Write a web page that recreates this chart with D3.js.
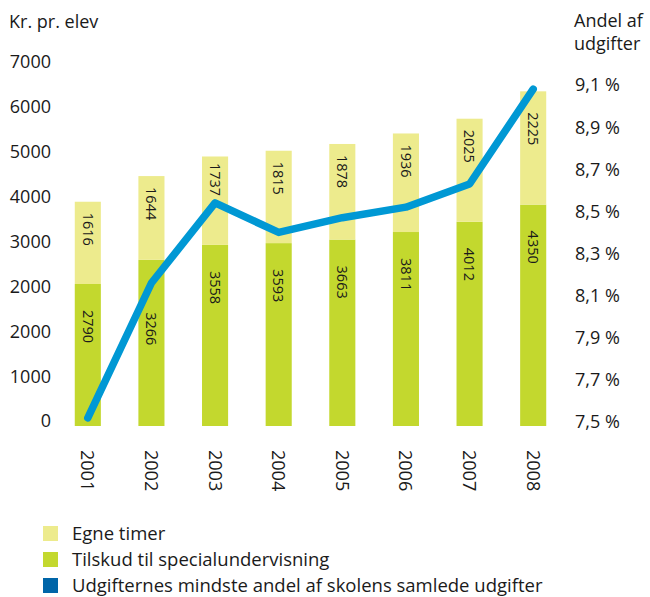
<!DOCTYPE html>
<html>
    <head>
        <meta charset="utf-8">
        <title></title>
        <script src="https://d3js.org/d3.v7.min.js"></script>
        <style>
            body { margin: 0; background: #fff; }
            text { font-family: "Open Sans", sans-serif; fill: #1a1a1a; }
        </style>
    </head>

    <body>
        <div id="my_dataviz"></div>
    </body>

    <script>
        // data
        var years = ["2001", "2002", "2003", "2004", "2005", "2006", "2007", "2008"];
        var tilskud = [2790, 3266, 3558, 3593, 3663, 3811, 4012, 4350];
        var egneTimer = [1616, 1644, 1737, 1815, 1878, 1936, 2025, 2225];
        var andel = [7.52, 8.16, 8.54, 8.40, 8.47, 8.52, 8.63, 9.08];

        // tick labels as printed (the left axis really prints 2000 twice)
        var leftTicks = ["7000", "6000", "5000", "4000", "3000", "2000", "2000", "1000", "0"];
        var rightTicks = [9.1, 8.9, 8.7, 8.5, 8.3, 8.1, 7.9, 7.7, 7.5];

        var legendItems = [
            { label: "Egne timer", color: "#edeb8d" },
            { label: "Tilskud til specialundervisning", color: "#c3d82e" },
            { label: "Udgifternes mindste andel af skolens samlede udgifter", color: "#0065a8" }
        ];

        var W = 650, H = 597;
        var base = 426;

        var svg = d3.select("#my_dataviz")
        .append("svg")
        .attr("width", W)
        .attr("height", H);

        // scales
        var x = d3.scaleBand()
        .domain(years)
        .range([56, 565])
        .paddingInner(0.59)
        .paddingOuter(0.295);

        var y = d3.scaleLinear()
        .domain([0, 7000])
        .range([base, base - 7000 * 0.0509]);

        var yRight = d3.scaleLinear()
        .domain([7.5, 9.1])
        .range([422, 85]);

        var yLeftLab = d3.scalePoint()
        .domain(d3.range(leftTicks.length))
        .range([62, 421]);

        // titles
        svg.append("text").attr("x", 9).attr("y", 28)
        .style("font-size", "18px").text("Kr. pr. elev");
        svg.append("text").attr("x", 574).attr("y", 27)
        .style("font-size", "18px").text("Andel af");
        svg.append("text").attr("x", 574).attr("y", 50)
        .style("font-size", "18px").text("udgifter");

        // left axis labels
        svg.append("g").selectAll("text")
        .data(leftTicks)
        .enter()
        .append("text")
        .attr("x", 51)
        .attr("y", function(d, i) { return yLeftLab(i); })
        .attr("dy", "0.36em")
        .attr("text-anchor", "end")
        .style("font-size", "18px")
        .text(function(d) { return d; });

        // right axis labels
        svg.append("g").selectAll("text")
        .data(rightTicks)
        .enter()
        .append("text")
        .attr("x", 575)
        .attr("y", function(d) { return yRight(d); })
        .attr("dy", "0.36em")
        .style("font-size", "18px")
        .text(function(d) { return d3.format(".1f")(d).replace(".", ",") + " %"; });

        var rows = years.map(function(yr, i) {
            return { year: yr, green: tilskud[i], light: egneTimer[i], pct: andel[i] };
        });

        // stacked bars
        svg.append("g").selectAll("rect")
        .data(rows)
        .enter()
        .append("rect")
        .attr("x", function(d) { return x(d.year); })
        .attr("y", function(d) { return y(d.green); })
        .attr("width", x.bandwidth())
        .attr("height", function(d) { return base - y(d.green); })
        .style("fill", "#c3d82e");

        svg.append("g").selectAll("rect")
        .data(rows)
        .enter()
        .append("rect")
        .attr("x", function(d) { return x(d.year); })
        .attr("y", function(d) { return y(d.green + d.light); })
        .attr("width", x.bandwidth())
        .attr("height", function(d) { return y(d.green) - y(d.green + d.light); })
        .style("fill", "#edeb8d");

        // line position helpers
        var cxs = rows.map(function(d) { return x(d.year) + x.bandwidth() / 2; });
        var cys = rows.map(function(d) { return yRight(d.pct); });
        function lineYAt(px) {
            if (px <= cxs[0]) return cys[0];
            for (var i = 1; i < cxs.length; i++) {
                if (px <= cxs[i]) {
                    var t = (px - cxs[i - 1]) / (cxs[i] - cxs[i - 1]);
                    return cys[i - 1] + t * (cys[i] - cys[i - 1]);
                }
            }
            return cys[cys.length - 1];
        }

        // value labels, nudged off the line where they would hit it
        var labLen = 32;
        function labelStart(top, offset, cx) {
            var s = top + offset;
            var a = lineYAt(cx - 7), b = lineYAt(cx + 7), c = lineYAt(cx);
            var lo = Math.min(a, b, c) - 4, hi = Math.max(a, b, c) + 4;
            if (s + labLen > lo && s < hi) {
                var above = lo - 4 - labLen;
                if (above >= top + 2) return above;
                var wideHi = Math.max(lineYAt(cx - x.bandwidth() / 2), lineYAt(cx + x.bandwidth() / 2));
                return (hi + wideHi) / 2 + 6;
            }
            return s;
        }

        var labels = [];
        rows.forEach(function(d, i) {
            labels.push({ cx: cxs[i], v: d.light, s: labelStart(y(d.green + d.light), 11, cxs[i]) });
            labels.push({ cx: cxs[i], v: d.green, s: labelStart(y(d.green), 26, cxs[i]) });
        });

        svg.append("g").selectAll("text")
        .data(labels)
        .enter()
        .append("text")
        .attr("transform", function(d) { return "translate(" + d.cx + "," + d.s + ") rotate(90)"; })
        .attr("dy", "0.36em")
        .style("font-size", "14.5px")
        .text(function(d) { return d.v; });

        // year labels
        svg.append("g").selectAll("text")
        .data(years)
        .enter()
        .append("text")
        .attr("transform", function(d) { return "translate(" + (x(d) + x.bandwidth() / 2) + ",450) rotate(90)"; })
        .attr("dy", "0.36em")
        .style("font-size", "18px")
        .text(function(d) { return d; });

        // share line
        var line = d3.line()
        .x(function(d) { return x(d.year) + x.bandwidth() / 2; })
        .y(function(d) { return yRight(d.pct); });

        svg.append("path")
        .datum(rows)
        .attr("d", line)
        .style("fill", "none")
        .style("stroke", "#0098d4")
        .style("stroke-width", 7.5)
        .style("stroke-linecap", "round")
        .style("stroke-linejoin", "round");

        // legend
        var leg = svg.append("g").selectAll("g")
        .data(legendItems)
        .enter()
        .append("g")
        .attr("transform", function(d, i) { return "translate(43," + (526 + i * 26) + ")"; });

        leg.append("rect")
        .attr("width", 15)
        .attr("height", 15)
        .style("fill", function(d) { return d.color; });

        leg.append("text")
        .attr("x", 29)
        .attr("y", 14)
        .style("font-size", "18.5px")
        .text(function(d) { return d.label; });
    </script>
</html>
